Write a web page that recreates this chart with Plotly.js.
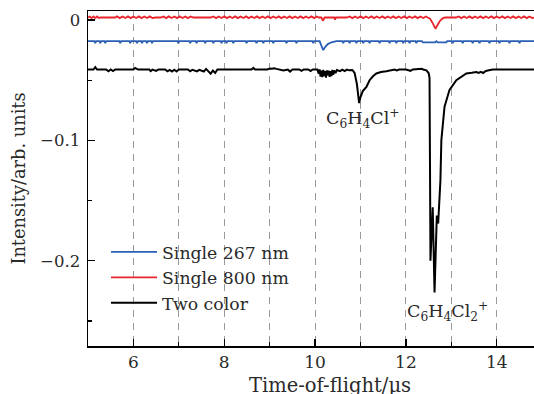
<!DOCTYPE html>
<html>
<head>
<meta charset="utf-8">
<script src="https://cdn.plot.ly/plotly-3.0.1.min.js"></script>
<style>html,body{margin:0;padding:0;background:#fff;}</style>
</head>
<body>
<div id="chart" style="width:534px;height:394px;"></div>
<script>
// Series names
const seriesNames = ['Single 267 nm', 'Single 800 nm', 'Two color'];
const xTitle = 'Time-of-flight/μs';
const yTitle = 'Intensity/arb. units';

// Single 267 nm trace: [time-of-flight (us), intensity]
const bluePts = [
 [5.00,-0.0175],
 [5.14,-0.0175],[5.16,-0.0193],[5.18,-0.0175],
 [5.25,-0.0175],[5.27,-0.0193],[5.29,-0.0175],
 [5.36,-0.0175],[5.38,-0.0192],[5.40,-0.0175],
 [5.69,-0.0175],[5.71,-0.0193],[5.73,-0.0175],
 [5.91,-0.0175],[5.93,-0.0192],[5.95,-0.0175],
 [6.06,-0.0175],[6.08,-0.0193],[6.10,-0.0175],
 [6.17,-0.0175],[6.19,-0.0192],[6.21,-0.0175],
 [6.28,-0.0175],[6.30,-0.0193],[6.32,-0.0175],
 [6.39,-0.0175],[6.41,-0.0192],[6.43,-0.0175],
 [6.97,-0.0175],[6.99,-0.0193],[7.01,-0.0175],
 [7.23,-0.0175],[7.25,-0.0192],[7.27,-0.0175],
 [7.37,-0.0175],[7.39,-0.0193],[7.41,-0.0175],
 [7.56,-0.0175],[7.58,-0.0192],[7.60,-0.0175],
 [7.74,-0.0175],[7.76,-0.0193],[7.78,-0.0175],
 [7.92,-0.0175],[7.94,-0.0192],[7.96,-0.0175],
 [8.03,-0.0175],[8.05,-0.0193],[8.07,-0.0175],
 [8.18,-0.0175],[8.20,-0.0192],[8.22,-0.0175],
 [8.47,-0.0175],[8.49,-0.0193],[8.51,-0.0175],
 [8.69,-0.0175],[8.71,-0.0192],[8.73,-0.0175],
 [8.84,-0.0175],[8.86,-0.0193],[8.88,-0.0175],
 [9.06,-0.0175],[9.08,-0.0192],[9.10,-0.0175],
 [9.35,-0.0175],[9.37,-0.0193],[9.39,-0.0175],
 [9.57,-0.0175],[9.59,-0.0192],[9.61,-0.0175],
 [9.94,-0.0175],[9.96,-0.0193],[9.98,-0.0175],
 [10.10,-0.0175],[10.14,-0.0215],[10.18,-0.0250],[10.22,-0.0225],[10.28,-0.0200],[10.36,-0.0185],[10.47,-0.0175],
 [10.60,-0.0175],[10.62,-0.0193],[10.64,-0.0175],
 [10.74,-0.0175],[10.76,-0.0192],[10.78,-0.0175],
 [10.89,-0.0175],[10.91,-0.0193],[10.93,-0.0175],
 [11.04,-0.0175],[11.06,-0.0192],[11.08,-0.0175],
 [11.18,-0.0175],[11.20,-0.0193],[11.22,-0.0175],
 [11.40,-0.0175],[11.42,-0.0192],[11.44,-0.0175],
 [11.62,-0.0175],[11.64,-0.0193],[11.66,-0.0175],
 [11.77,-0.0175],[11.79,-0.0192],[11.81,-0.0175],
 [11.92,-0.0175],[11.94,-0.0193],[11.96,-0.0175],
 [12.06,-0.0175],[12.08,-0.0192],[12.10,-0.0175],
 [12.21,-0.0175],[12.23,-0.0193],[12.25,-0.0175],
 [12.35,-0.0175],[12.37,-0.0186],[12.64,-0.0186],[12.67,-0.0176],[12.70,-0.0186],[12.89,-0.0186],[12.91,-0.0175],
 [13.01,-0.0175],[13.03,-0.0193],[13.05,-0.0175],
 [13.23,-0.0175],[13.25,-0.0192],[13.27,-0.0175],
 [13.45,-0.0175],[13.47,-0.0193],[13.49,-0.0175],
 [13.60,-0.0175],[13.62,-0.0192],[13.64,-0.0175],
 [13.82,-0.0175],[13.84,-0.0193],[13.86,-0.0175],
 [14.04,-0.0175],[14.06,-0.0192],[14.08,-0.0175],
 [14.26,-0.0175],[14.28,-0.0193],[14.30,-0.0175],
 [14.48,-0.0175],[14.50,-0.0192],[14.52,-0.0175],
 [14.82,-0.0175]
];

// Single 800 nm trace
const redPts = [
 [5.00,0.0021],[5.04,0.0029],[5.08,0.0016],[5.12,0.0030],[5.16,0.0016],[5.20,0.0029],[5.24,0.0017],[5.28,0.0021],
 [5.60,0.0021],[5.64,0.0030],[5.70,0.0016],[5.76,0.0029],[5.82,0.0017],[5.88,0.0030],[5.94,0.0016],[6.00,0.0029],
 [6.06,0.0017],[6.12,0.0030],[6.18,0.0016],[6.24,0.0029],[6.30,0.0017],[6.36,0.0030],[6.42,0.0016],[6.48,0.0021],
 [6.60,0.0021],[6.66,0.0029],[6.72,0.0016],[6.78,0.0030],[6.84,0.0017],[6.90,0.0029],[6.96,0.0016],[7.02,0.0030],
 [7.08,0.0017],[7.14,0.0029],[7.20,0.0016],[7.26,0.0030],[7.32,0.0021],
 [7.70,0.0021],[7.76,0.0030],[7.82,0.0016],[7.88,0.0029],[7.94,0.0017],[8.00,0.0030],[8.06,0.0016],[8.12,0.0029],
 [8.18,0.0017],[8.24,0.0030],[8.30,0.0016],[8.36,0.0029],[8.42,0.0017],[8.48,0.0030],[8.54,0.0016],[8.60,0.0029],
 [8.66,0.0017],[8.72,0.0030],[8.78,0.0016],[8.84,0.0029],[8.90,0.0017],[8.96,0.0030],[9.02,0.0016],[9.08,0.0029],
 [9.14,0.0017],[9.20,0.0030],[9.26,0.0016],[9.32,0.0029],[9.38,0.0017],[9.44,0.0030],[9.50,0.0016],[9.56,0.0029],
 [9.62,0.0017],[9.68,0.0030],[9.74,0.0016],[9.80,0.0029],[9.86,0.0017],[9.92,0.0030],[9.98,0.0016],[10.04,0.0029],
 [10.08,0.0021],
 [10.14,0.0021],[10.17,-0.0006],[10.21,0.0021],[10.42,0.0021],[10.44,0.0004],[10.46,0.0021],
 [10.70,0.0021],[10.76,0.0030],[10.82,0.0016],[10.88,0.0029],[10.94,0.0017],[11.00,0.0030],[11.06,0.0016],[11.12,0.0029],
 [11.18,0.0017],[11.24,0.0030],[11.30,0.0016],[11.36,0.0029],[11.42,0.0017],[11.48,0.0030],[11.54,0.0016],[11.60,0.0029],
 [11.66,0.0017],[11.72,0.0030],[11.78,0.0016],[11.84,0.0029],[11.90,0.0017],[11.96,0.0030],[12.02,0.0016],[12.08,0.0029],
 [12.14,0.0017],[12.20,0.0030],[12.26,0.0016],[12.32,0.0029],[12.38,0.0017],[12.44,0.0030],[12.48,0.0021],
 [12.53,0.0012],[12.58,-0.0020],[12.62,-0.0055],[12.65,-0.0072],[12.69,-0.0045],[12.74,-0.0012],[12.80,0.0012],[12.86,0.0021],
 [13.10,0.0021],[13.16,0.0030],[13.22,0.0016],[13.28,0.0029],[13.34,0.0017],[13.40,0.0030],[13.46,0.0016],[13.52,0.0029],
 [13.58,0.0017],[13.64,0.0030],[13.70,0.0016],[13.76,0.0029],[13.82,0.0017],[13.88,0.0030],[13.94,0.0016],[14.00,0.0029],
 [14.06,0.0017],[14.12,0.0030],[14.18,0.0016],[14.24,0.0029],[14.30,0.0017],[14.36,0.0030],[14.42,0.0016],[14.48,0.0029],
 [14.54,0.0017],[14.60,0.0030],[14.66,0.0016],[14.72,0.0029],[14.78,0.0017],[14.82,0.0021]
];

// Two color trace
const blackPts = [
 [5.00,-0.0411],[5.12,-0.0411],[5.16,-0.0392],[5.20,-0.0411],[5.40,-0.0411],[5.45,-0.0425],[5.50,-0.0411],
 [5.55,-0.0424],[5.60,-0.0411],[6.00,-0.0411],[6.04,-0.0398],[6.10,-0.0411],[6.35,-0.0411],[6.38,-0.0424],
 [6.42,-0.0412],[6.50,-0.0423],[6.55,-0.0411],[6.70,-0.0411],[6.75,-0.0426],[6.80,-0.0415],[6.85,-0.0428],
 [6.90,-0.0413],[6.95,-0.0427],[7.00,-0.0411],[7.20,-0.0411],[7.25,-0.0425],[7.30,-0.0413],[7.40,-0.0427],
 [7.45,-0.0414],[7.55,-0.0428],[7.60,-0.0406],[7.65,-0.0430],[7.70,-0.0445],[7.75,-0.0420],[7.80,-0.0440],
 [7.85,-0.0411],[8.20,-0.0411],[8.60,-0.0411],[8.64,-0.0398],[8.68,-0.0411],[8.95,-0.0411],[9.00,-0.0402],
 [9.05,-0.0404],[9.10,-0.0400],[9.15,-0.0406],[9.20,-0.0411],[9.30,-0.0420],[9.40,-0.0412],[9.45,-0.0428],
 [9.50,-0.0411],[9.65,-0.0411],[9.70,-0.0422],[9.75,-0.0411],[9.85,-0.0411],[9.90,-0.0423],[9.95,-0.0411],
 [10.05,-0.0411],[10.08,-0.0445],[10.10,-0.0410],[10.12,-0.0470],[10.14,-0.0420],[10.16,-0.0475],[10.18,-0.0415],
 [10.20,-0.0465],[10.22,-0.0425],[10.24,-0.0478],[10.26,-0.0418],[10.28,-0.0460],[10.30,-0.0420],[10.32,-0.0472],
 [10.34,-0.0425],[10.36,-0.0465],[10.38,-0.0415],[10.40,-0.0455],[10.42,-0.0420],[10.45,-0.0440],[10.48,-0.0415],
 [10.55,-0.0425],[10.60,-0.0413],[10.65,-0.0424],[10.70,-0.0412],[10.75,-0.0418],[10.82,-0.0415],[10.87,-0.0440],
 [10.92,-0.0530],[10.97,-0.0690],[11.00,-0.0640],[11.05,-0.0590],[11.13,-0.0556],[11.20,-0.0500],[11.28,-0.0465],
 [11.35,-0.0444],[11.45,-0.0432],[11.57,-0.0425],[11.65,-0.0418],[11.75,-0.0412],[11.80,-0.0418],[11.85,-0.0411],
 [12.00,-0.0411],[12.10,-0.0422],[12.15,-0.0411],[12.25,-0.0405],[12.35,-0.0405],[12.38,-0.0411],[12.45,-0.0418],
 [12.50,-0.0440],[12.52,-0.0480],[12.53,-0.1200],[12.54,-0.2000],[12.59,-0.1556],[12.63,-0.2264],[12.68,-0.1625],
 [12.71,-0.1690],[12.76,-0.1330],[12.78,-0.1000],[12.85,-0.0720],[12.96,-0.0580],[13.11,-0.0500],[13.25,-0.0460],
 [13.33,-0.0444],[13.45,-0.0438],[13.55,-0.0432],[13.60,-0.0440],[13.65,-0.0430],[13.70,-0.0440],[13.75,-0.0425],
 [13.80,-0.0420],[13.91,-0.0411],[14.82,-0.0411]
];

// Peak labels
const peakLabels = ['C<sub>6</sub>H<sub>4</sub>Cl<sup>+</sup>', 'C<sub>6</sub>H<sub>4</sub>Cl<sub>2</sub><sup>+</sup>'];
const peakLabelX = [11.06, 12.92];
const peakLabelY = [-0.0818, -0.2423];

const seriesPts = [bluePts, redPts, blackPts];
const seriesColors = ['#2b5fb4', '#e8262a', '#000000'];
const seriesWidths = [1.8, 1.8, 2];

const FONT = 'DejaVu Serif, serif';
const TXT = '#2a2a2a';

const traces = seriesPts.map((pts, i) => ({
  type: 'scatter', mode: 'lines',
  name: seriesNames[i],
  x: pts.map(p => p[0]), y: pts.map(p => p[1]),
  line: {color: seriesColors[i], width: seriesWidths[i]}
}));

const gridDash = '7px,6px';
const annotations = peakLabels.map((t, i) => ({
  text: t, x: peakLabelX[i], y: peakLabelY[i], xref: 'x', yref: 'y',
  showarrow: false, font: {family: FONT, size: 17.5, color: TXT}
}));
// x-axis title placed just below the tick labels (bottom edge cut by the image edge, as in the original)
annotations.push({
  text: xTitle, xref: 'paper', yref: 'paper', x: 0.5426, y: -0.0782, xanchor: 'center', yanchor: 'top',
  showarrow: false, font: {family: FONT, size: 19.5, color: TXT}
});

const layout = {
  width: 534, height: 394,
  margin: {l: 88, r: 0, t: 11, b: 48},
  paper_bgcolor: '#fff', plot_bgcolor: '#fff',
  font: {family: FONT, size: 17, color: TXT},
  showlegend: true,
  legend: {x: 0.0404, y: 0.334, xanchor: 'left', yanchor: 'top', itemwidth: 46, bgcolor: 'rgba(0,0,0,0)', font: {family: FONT, size: 17.3, color: TXT}},
  xaxis: {
    range: [5, 14.82], tick0: 0, dtick: 2,
    ticks: 'inside', ticklen: 7, tickwidth: 1.2, tickcolor: '#000',
    showline: true, linecolor: '#000', linewidth: 1.5, mirror: true,
    showgrid: true, gridcolor: '#9a9a9a', gridwidth: 1, griddash: gridDash,
    minor: {dtick: 1, ticks: 'inside', ticklen: 4, tickcolor: '#000', showgrid: true, gridcolor: '#9a9a9a', gridwidth: 1, griddash: gridDash},
    zeroline: false,
    tickfont: {family: FONT, size: 17, color: TXT}
  },
  yaxis: {
    range: [-0.2708, 0.0075], tick0: 0, dtick: 0.1,
    ticks: 'inside', ticklen: 7, tickwidth: 1.2, tickcolor: '#000',
    showline: true, linecolor: '#000', linewidth: 1.5, mirror: false,
    minor: {dtick: 0.05, ticks: 'inside', ticklen: 4, tickcolor: '#000', showgrid: false},
    showgrid: false, zeroline: false,
    ticklabelstandoff: 3,
    tickfont: {family: FONT, size: 16.5, color: TXT},
    title: {text: yTitle, font: {family: FONT, size: 17.8, color: TXT}, standoff: 10}
  },
  annotations: annotations
};

Plotly.newPlot('chart', traces, layout, {staticPlot: true, displayModeBar: false});
</script>
</body>
</html>
